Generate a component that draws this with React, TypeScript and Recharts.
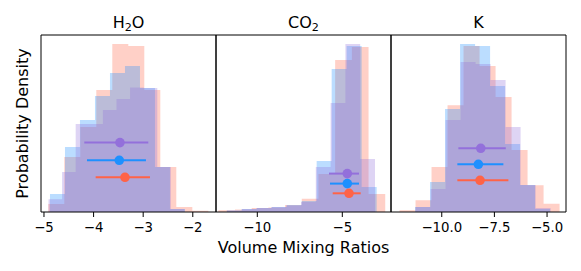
import React from 'react';
import { ComposedChart, Area, Scatter, ErrorBar, XAxis, YAxis, Label, ReferenceArea } from 'recharts';

const FONT = '"DejaVu Sans", sans-serif';
const RED = '#FF6347';
const BLUE = '#1E90FF';
const PURPLE = '#9370DB';

// histograms: left edge of the first bin, bin width, bar heights (density, arbitrary units)
const h2oRed = { start: -4.913, width: 0.3226, heights: [8, 55, 85, 122, 168, 166, 122, 45, 5, 1.3] };
const h2oBlue = { start: -4.879, width: 0.3024, heights: [18, 65, 92, 116, 139, 146, 124, 45, 3] };
const h2oPurple = { start: -4.909, width: 0.2742, heights: [12.7, 40, 88, 88, 102, 113, 124.5, 124, 45, 3] };

const co2Red = { start: -12.294, width: 0.982, heights: [1.7, 2.5, 4, 4.5, 7, 13.3, 38, 152, 165, 18] };
const co2Blue = { start: -11.8, width: 0.882, heights: [1.5, 3, 4, 5, 7, 11, 51, 143, 166, 25] };
const co2Purple = { start: -11.782, width: 0.8706, heights: [1.5, 3, 4, 5, 6.5, 10, 45, 109, 168, 53] };

const kRed = { start: -12.005, width: 0.76, heights: [1.7, 11.7, 45, 106.7, 166, 146, 115, 62, 26.7, 8.3] };
const kBlue = { start: -11.268, width: 0.7126, heights: [5, 30, 103, 168, 166, 126, 68, 27, 3] };
const kPurple = { start: -11.245, width: 0.7126, heights: [5, 23, 92, 150, 148, 132, 85, 27, 4] };

// median with lower / upper bound, plotted at a fixed height
const h2oEst = [
  { x: -3.468, lo: -4.187, hi: -2.897, y: 69.4, color: PURPLE },
  { x: -3.482, lo: -4.133, hi: -2.944, y: 51.7, color: BLUE },
  { x: -3.367, lo: -3.958, hi: -2.863, y: 34.7, color: RED },
];
const co2Est = [
  { x: -4.706, lo: -5.782, hi: -4.018, y: 38.4, color: PURPLE },
  { x: -4.706, lo: -5.724, hi: -4.018, y: 28.4, color: BLUE },
  { x: -4.606, lo: -5.565, hi: -3.918, y: 18.7, color: RED },
];
const kEst = [
  { x: -8.147, lo: -9.211, hi: -6.96, y: 63.7, color: PURPLE },
  { x: -8.261, lo: -9.259, hi: -7.074, y: 47.7, color: BLUE },
  { x: -8.181, lo: -9.259, hi: -6.836, y: 31.7, color: RED },
];

const h2oTicks = [-5, -4, -3, -2];
const co2Ticks = [-10, -5];
const kTicks = [-10, -7.5, -5];

const Y_MAX = 177;

type Hist = { start: number; width: number; heights: number[] };

// step points for a histogram: one point per left edge, plus the closing right edge
const toSteps = (h: Hist) => {
  const pts = h.heights.map((y, i) => ({ x: h.start + i * h.width, y }));
  pts.push({ x: h.start + h.heights.length * h.width, y: h.heights[h.heights.length - 1] });
  return pts;
};

const minus = (s: string) => s.replace('-', '\u2212');

const titleContent = (parts: [string, boolean][]) => (props: any) => {
  const vb = props.viewBox;
  return (
    <text x={vb.x + vb.width / 2} y={vb.y - 6.7} textAnchor="middle" fontSize={16} fontFamily={FONT} fill="#000">
      {parts.map(([t, sub], i) => {
        const prevSub = i > 0 && parts[i - 1][1];
        const dy = sub ? 3 : prevSub ? -3 : 0;
        return (
          <tspan key={i} fontSize={sub ? 11.2 : 16} dy={dy}>
            {t}
          </tspan>
        );
      })}
    </text>
  );
};

const xLabelContent = (props: any) => {
  const vb = props.viewBox;
  return (
    <text x={vb.x + vb.width / 2} y={vb.y + 40.5} textAnchor="middle" fontSize={16} fontFamily={FONT} fill="#000">
      Volume Mixing Ratios
    </text>
  );
};

const yLabelContent = (props: any) => {
  const vb = props.viewBox;
  const cx = vb.x + 22.5;
  const cy = vb.y + vb.height / 2;
  return (
    <text
      x={cx}
      y={cy}
      transform={`rotate(-90, ${cx}, ${cy})`}
      textAnchor="middle"
      dominantBaseline="central"
      fontSize={16}
      fontFamily={FONT}
      fill="#000"
    >
      Probability Density
    </text>
  );
};

type PanelProps = {
  title: [string, boolean][];
  hists: [Hist, string][];
  est: typeof h2oEst;
  domain: [number, number];
  ticks: number[];
  digits: number;
  margin: { top: number; right: number; bottom: number; left: number };
  yWidth: number;
  xLabel?: boolean;
  yLabel?: boolean;
};

function Panel({ title, hists, est, domain, ticks, digits, margin, yWidth, xLabel, yLabel }: PanelProps) {
  return (
    <div style={{ position: 'absolute', left: 0, top: 0 }}>
      <ComposedChart width={581} height={271} margin={margin}>
        <XAxis
          type="number"
          dataKey="x"
          domain={domain}
          allowDataOverflow
          ticks={ticks}
          interval={0}
          tickFormatter={(v: number) => minus(v.toFixed(digits))}
          height={59}
          tickSize={5}
          tickMargin={6}
          axisLine={false}
          stroke="#000"
          tick={{ fill: '#000', fontSize: 13.3, fontFamily: FONT }}
        >
          {xLabel && <Label content={xLabelContent} />}
        </XAxis>
        <YAxis type="number" domain={[0, Y_MAX]} allowDataOverflow width={yWidth} tick={false} tickLine={false} axisLine={false}>
          {yLabel && <Label content={yLabelContent} />}
        </YAxis>
        {hists.map(([h, color], i) => (
          <Area
            key={i}
            data={toSteps(h)}
            dataKey="y"
            type="stepAfter"
            stroke="none"
            fill={color}
            fillOpacity={0.3}
            isAnimationActive={false}
          />
        ))}
        {est.map((e, i) => (
          <Scatter
            key={i}
            data={[{ x: e.x, y: e.y, err: [e.x - e.lo, e.hi - e.x] }]}
            dataKey="y"
            fill={e.color}
            isAnimationActive={false}
            shape={(s: any) => <circle cx={s.cx} cy={s.cy} r={4.8} fill={e.color} />}
          >
            <ErrorBar dataKey="err" direction="x" width={0} stroke={e.color} strokeWidth={2} isAnimationActive={false} />
          </Scatter>
        ))}
        {/* axes frame and panel title */}
        <ReferenceArea x1={domain[0]} x2={domain[1]} y1={0} y2={Y_MAX} fill="none" fillOpacity={0} stroke="#000" strokeWidth={1}>
          <Label content={titleContent(title)} />
        </ReferenceArea>
      </ComposedChart>
    </div>
  );
}

export default function App() {
  return (
    <div style={{ position: 'absolute', left: 0, top: 0, width: 581, height: 271, background: '#fff', overflow: 'hidden' }}>
      <Panel
        title={[['H', false], ['2', true], ['O', false]]}
        hists={[[h2oRed, RED], [h2oBlue, BLUE], [h2oPurple, PURPLE]]}
        est={h2oEst}
        domain={[-5.06, -1.532]}
        ticks={h2oTicks}
        digits={0}
        margin={{ top: 35, right: 365, bottom: 0, left: 0 }}
        yWidth={41}
        yLabel
      />
      <Panel
        title={[['CO', false], ['2', true]]}
        hists={[[co2Red, RED], [co2Blue, BLUE], [co2Purple, PURPLE]]}
        est={co2Est}
        domain={[-12.43, -2.135]}
        ticks={co2Ticks}
        digits={0}
        margin={{ top: 35, right: 190, bottom: 0, left: 216 }}
        yWidth={0}
        xLabel
      />
      <Panel
        title={[['K', false]]}
        hists={[[kRed, RED], [kBlue, BLUE], [kPurple, PURPLE]]}
        est={kEst}
        domain={[-12.41, -4.1]}
        ticks={kTicks}
        digits={1}
        margin={{ top: 35, right: 15, bottom: 0, left: 391 }}
        yWidth={0}
      />
    </div>
  );
}
